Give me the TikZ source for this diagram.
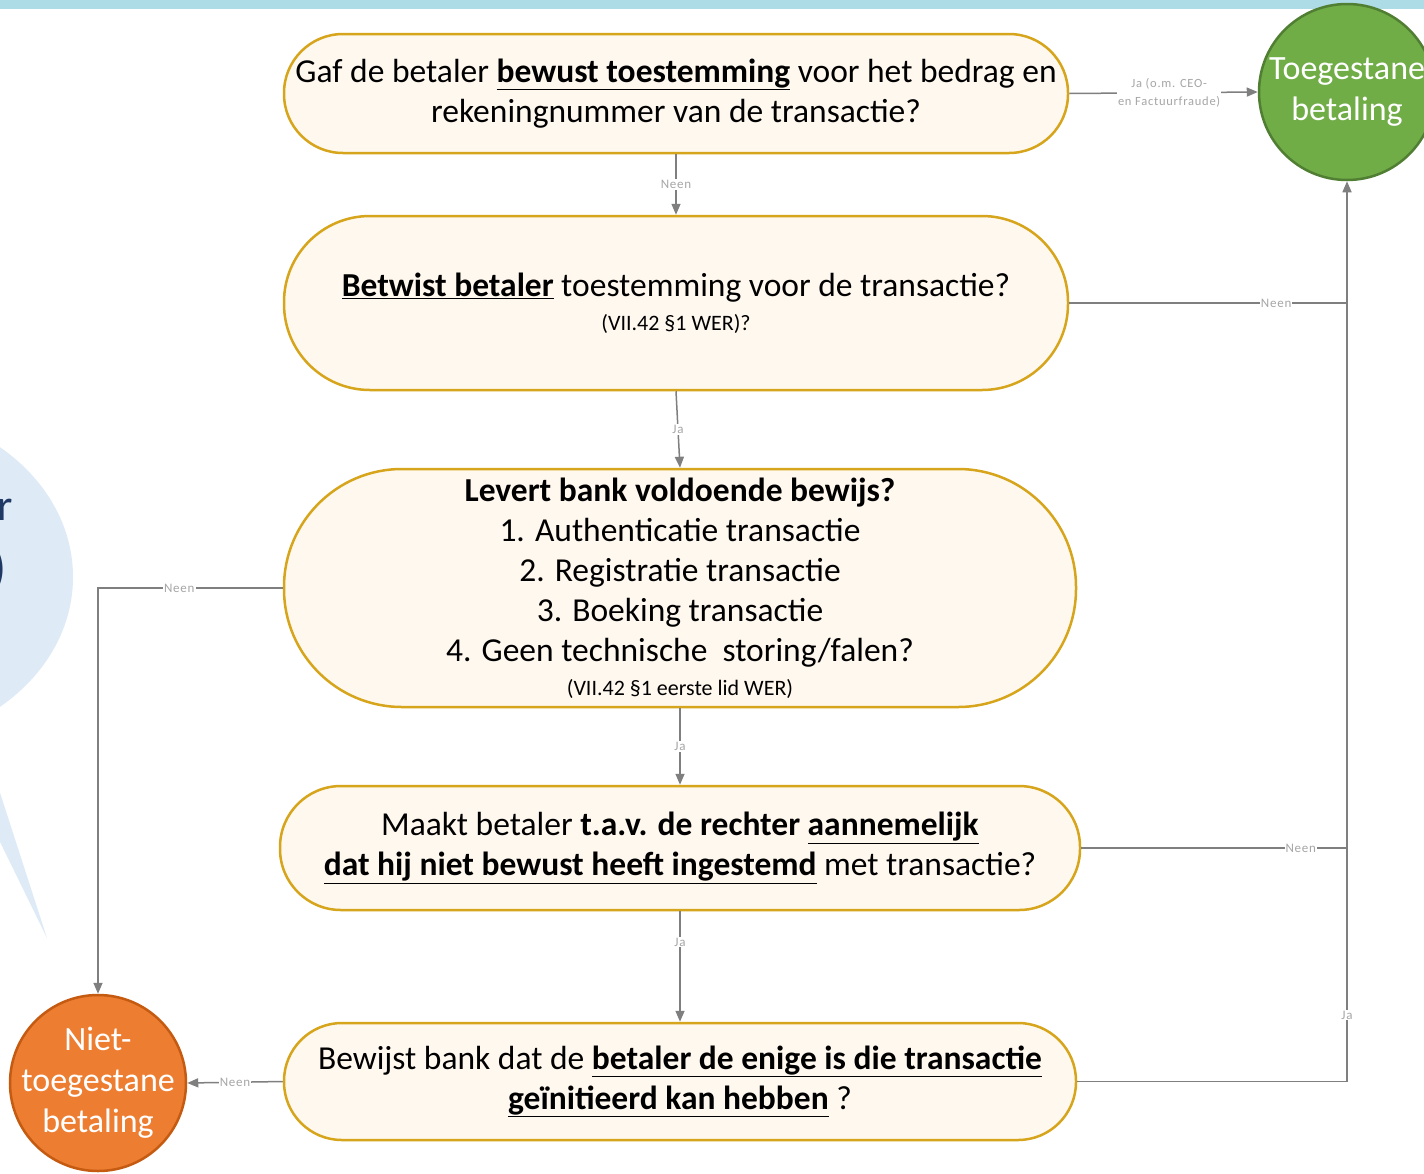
\documentclass[tikz,border=0pt]{standalone}
\usepackage{fontspec}
\setmainfont{Carlito}
\usetikzlibrary{arrows.meta}
\definecolor{boxfill}{HTML}{FFF8EF}
\definecolor{boxline}{HTML}{D6A51C}
\definecolor{connc}{HTML}{7F7F7F}
\definecolor{lblc}{HTML}{A6A6A6}
\definecolor{topbar}{HTML}{ADDCE7}
\definecolor{bubble}{HTML}{DEEBF7}
\definecolor{navy}{HTML}{1F3864}
\definecolor{greenfill}{HTML}{70AD47}
\definecolor{greenline}{HTML}{507E32}
\definecolor{orangefill}{HTML}{ED7D31}
\definecolor{orangeline}{HTML}{C55A11}
\newfontfamily\lblfont[LetterSpace=6]{Carlito}
\begin{document}
\begin{tikzpicture}[x=1pt,y=-1pt,
  qbox/.style={draw=boxline, fill=boxfill, line width=2.5pt, align=center,
    inner sep=0pt, font=\fontsize{33.5}{40}\selectfont},
  endcirc/.style={circle, line width=2.5pt, text=white, align=center,
    inner sep=-20pt, minimum size=176pt, font=\fontsize{34}{41}\selectfont},
  conn/.style={draw=connc, line width=1.5pt, -{Triangle[length=11pt,width=9pt]}},
  connplain/.style={draw=connc, line width=1.5pt},
  lbl/.style={fill=white, text=lblc, inner sep=1pt, font=\lblfont\fontsize{13}{15}\selectfont},
  lblsmall/.style={fill=white, text=lblc, inner sep=1pt, align=center, font=\lblfont\fontsize{12.5}{17.5}\selectfont}
]
\useasboundingbox (0,0) rectangle (1424,1173);
\clip (0,0) rectangle (1424,1173);
\fill[white] (0,0) rectangle (1424,1173);
\fill[topbar] (0,0) rectangle (1424,9);

% speech bubble (cut off at left)
\fill[bubble] (-127,577) ellipse [x radius=200, y radius=168];
\fill[bubble] (-30,700) -- (47,938) -- (-40,760) -- cycle;
\node[text=navy, anchor=east, inner sep=0pt, font=\fontsize{44}{48}\selectfont] (bubr) at (13,510) {r};
\node[text=navy, anchor=east, inner sep=0pt, font=\fontsize{50}{52}\selectfont\bfseries] (bubp) at (6,570) {)};

% questions
\node[qbox, minimum width=784pt, minimum height=119pt, rounded corners=59pt] (b1) at (676,93.5)
  {\raisebox{0pt}{}Gaf de betaler \underline{\textbf{bewust toestemming}} voor het bedrag en\\rekeningnummer van de transactie?};
\node[qbox, minimum width=784pt, minimum height=174pt, rounded corners=86pt] (b2) at (676,303)
  {\underline{\textbf{Betwist betaler}} toestemming voor de transactie?\\[-6pt]{\fontsize{22}{26}\selectfont (VII.42 §1 WER)?}};
\node[qbox, minimum width=792pt, minimum height=238pt, rounded corners=118pt] (b3) at (680,588)
  {\textbf{Levert bank voldoende bewijs?}\\1. Authenticatie transactie\\2. Registratie transactie\\3. Boeking transactie\\4. Geen technische\ \ storing/falen?\\[-6pt]{\fontsize{22}{26}\selectfont (VII.42 §1 eerste lid WER)}};
\node[qbox, minimum width=800pt, minimum height=124pt, rounded corners=61pt] (b4) at (680,848)
  {Maakt betaler \textbf{t.a.v. de rechter \underline{aannemelijk}}\\\underline{\textbf{dat hij niet bewust heeft ingestemd}} met transactie?};
\node[qbox, minimum width=792pt, minimum height=117pt, rounded corners=58pt] (b5) at (680,1081.5)
  {Bewijst bank dat de \underline{\textbf{betaler de enige is die transactie}}\\\underline{\textbf{geïnitieerd kan hebben}} ?};

% outcomes
\node[endcirc, draw=greenline, fill=greenfill] (ok) at (1347,92) {Toegestane\\betaling};
\node[endcirc, draw=orangeline, fill=orangefill] (nok) at (98,1083) {Niet-\\toegestane\\betaling};

% connectors
\draw[conn] (b1.east) -- node[lblsmall, pos=0.53] {Ja (o.m. CEO-\\en Factuurfraude)} (ok.west);
\draw[conn] (b1.south) -- node[lbl] {Neen} (b2.north);
\draw[connplain] (b2.east) -- node[lbl, pos=0.745] {Neen} (b2.east -| ok.south);
\draw[conn] (b2.south) -- node[lbl] {Ja} (b3.north);
\draw[conn] (b3.west) -| node[lbl, pos=0.28] {Neen} (nok.north);
\draw[conn] (b3.south) -- node[lbl] {Ja} (b4.north);
\draw[connplain] (b4.east) -- node[lbl, pos=0.826] {Neen} (b4.east -| ok.south);
\draw[conn] (b4.south) -- node[lbl, pos=0.28] {Ja} (b5.north);
\draw[conn] (b5.east) -| node[lbl, pos=0.537] {Ja} (ok.south);
\draw[conn] (b5.west) -- node[lbl] {Neen} (nok.east);
\end{tikzpicture}
\end{document}
